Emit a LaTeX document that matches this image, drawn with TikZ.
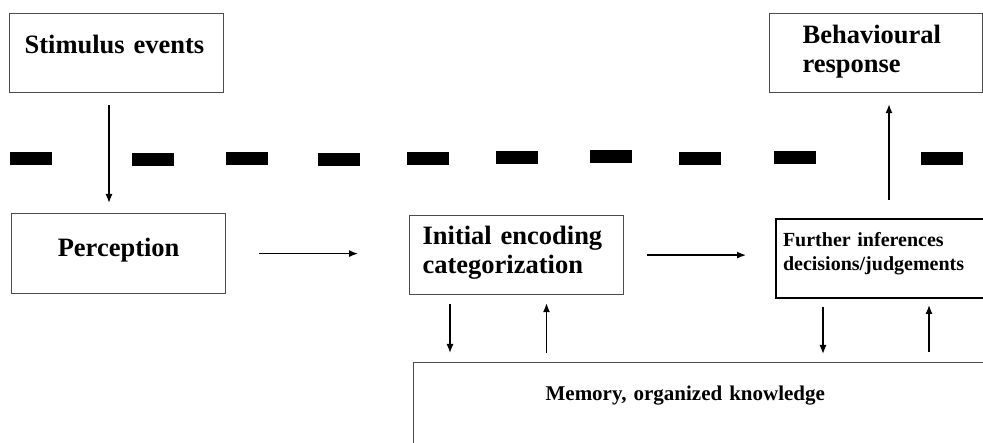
\documentclass[tikz,border=0pt]{standalone}
\usepackage{fontspec}
\setmainfont{Liberation Serif}
\usetikzlibrary{arrows.meta}
\tikzset{
>={Latex[length=9pt,width=7pt]},
arr/.style={->, line width=1.3pt},
box/.style={draw=black!70, line width=1.2pt, inner sep=0pt, anchor=north west},
bigtext/.style={font=\fontsize{26.5}{29}\selectfont\bfseries},
smalltext/.style={font=\fontsize{20}{24}\selectfont\bfseries},
}

\begin{document}
\begin{tikzpicture}
    [x=1pt,y=-1pt]
    \clip (0,0) rectangle (983,443);

    %top row
    \node[box,bigtext,minimum width=214pt,minimum height=79pt,text width=184pt,align=left,text depth=17pt] (stim) at (9,13) {Stimulus events};
    \node[box,bigtext,minimum width=213pt,minimum height=79pt,text width=147pt,align=left,text depth=37pt] (resp) at (769,13) {Behavioural\\response};

    %middle row
    \node[box,bigtext,minimum width=214pt,minimum height=80pt,align=center,text depth=12pt] (perc) at (11,213) {Perception};
    \node[box,bigtext,minimum width=214pt,minimum height=79pt,text width=188pt,align=left,text depth=39pt] (init) at (409,215) {Initial encoding\\categorization};
    \node[box,smalltext,draw=black,line width=2pt,minimum width=222pt,minimum height=79pt,text width=208pt,align=left,text depth=38.6pt] (infer) at (775,218) {Further inferences\\decisions/judgements};

    %bottom
    \node[box,font=\fontsize{21}{24}\selectfont\bfseries,minimum width=600pt,minimum height=100pt,text width=336pt,align=left,text depth=38.3pt] (mem) at (413,362) {Memory, organized knowledge};

    %dashed border
    \foreach \x/\y in {10/152, 132/153, 226/152, 318/153, 407/152, 496/151, 590/150, 679/152, 774/151, 921/152}
        \fill (\x,\y) rectangle ++(42,13);

    \coordinate (c1) at (109,0);
    \coordinate (c2) at (889,0);
    \coordinate (d1) at (450,0);
    \coordinate (u1) at (546.5,0);
    \coordinate (d2) at (823,0);
    \coordinate (u2) at (929,0);

    \draw[arr,shorten <=12pt,shorten >=10pt] (stim.south -| c1) to (perc.north -| c1);
    \draw[arr,shorten <=33pt,shorten >=51pt] (perc.east) to (perc.east -| init.west);
    \draw[arr,shorten <=23pt,shorten >=29pt] (init.east) to (init.east -| infer.west);
    \draw[arr,shorten <=18pt,shorten >=11pt] (infer.north -| c2) to (resp.south -| c2);
    \draw[arr,shorten <=9pt,shorten >=9pt] (init.south -| d1) to (mem.north -| d1);
    \draw[arr,shorten <=9pt,shorten >=8pt] (mem.north -| u1) to (init.south -| u1);
    \draw[arr,shorten <=8pt,shorten >=8pt] (infer.south -| d2) to (mem.north -| d2);
    \draw[arr,shorten <=10pt,shorten >=6pt] (mem.north -| u2) to (infer.south -| u2);

\end{tikzpicture}
\end{document}
